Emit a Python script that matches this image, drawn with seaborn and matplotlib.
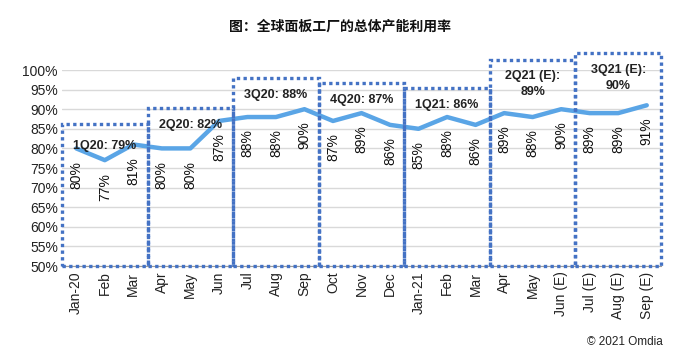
import pandas as pd
import seaborn as sns
import matplotlib.pyplot as plt
from matplotlib.patches import Rectangle

months = ['Jan-20', 'Feb', 'Mar', 'Apr', 'May', 'Jun', 'Jul', 'Aug', 'Sep', 'Oct', 'Nov', 'Dec',
          'Jan-21', 'Feb', 'Mar', 'Apr', 'May', 'Jun (E)', 'Jul (E)', 'Aug (E)', 'Sep (E)']
utilization = [80, 77, 81, 80, 80, 87, 88, 88, 90, 87, 89, 86, 85, 88, 86, 89, 88, 90, 89, 89, 91]

quarter_labels = ['1Q20: 79%', '2Q20: 82%', '3Q20: 88%', '4Q20: 87%', '1Q21: 86%',
                  '2Q21 (E):\n89%', '3Q21 (E):\n90%']
quarter_box_top = [86.2, 90.3, 98.0, 96.6, 95.3, 102.5, 104.3]
quarter_label_y = [80.7, 86.0, 93.6, 92.3, 91.0, 96.4, 98.0]

sns.set_style('white')
plt.rcParams['font.family'] = ['Liberation Sans', 'Noto Sans CJK SC', 'DejaVu Sans']

df = pd.DataFrame({'idx': range(len(months)), 'val': utilization})

fig = plt.figure(figsize=(6.79, 3.52), dpi=100)
ax = fig.add_axes([62 / 679, 1 - 266 / 352, 599 / 679, 196 / 352])

sns.lineplot(data=df, x='idx', y='val', ax=ax, color='#5AA5E6', linewidth=3.2, zorder=3)

ax.set_xlim(-0.5, len(months) - 0.5)
ax.set_ylim(50, 100)
ax.set_yticks(range(50, 101, 5))
ax.set_yticklabels([f'{v}%' for v in range(50, 101, 5)], fontsize=10, color='#222222')
ax.set_xticks(range(len(months)))
ax.set_xticklabels(months, rotation=90, fontsize=10, color='#222222', va='top')
ax.set_xticks([i + 0.5 for i in range(-1, len(months))], minor=True)
ax.tick_params(axis='x', which='major', length=0, pad=4)
ax.tick_params(axis='x', which='minor', length=5, color='#9a9a9a', direction='out')
ax.tick_params(axis='y', length=0, pad=3)
ax.grid(axis='y', color='#d9d9d9', linewidth=1)
ax.set_xlabel('')
ax.set_ylabel('')
for s in ['top', 'right', 'left']:
    ax.spines[s].set_visible(False)
ax.spines['bottom'].set_color('#9a9a9a')

# data labels under each point
for i, v in enumerate(utilization):
    ax.annotate(f'{v}%', (i, v), xytext=(0, -9), textcoords='offset points',
                rotation=90, ha='center', va='top', fontsize=10, color='#111111')

# quarter boxes
for q in range(len(quarter_labels)):
    x0 = q * 3 - 0.5
    ax.add_patch(Rectangle((x0, 50), 3, quarter_box_top[q] - 50, fill=False,
                           edgecolor='#4472C4', linewidth=2.4, linestyle=(0, (1, 1)),
                           clip_on=False, zorder=4))
    ax.text(q * 3 + 1, quarter_label_y[q], quarter_labels[q], ha='center', va='center',
            fontsize=9, fontweight='bold', color='#222222', linespacing=1.4, zorder=5)

fig.text(0.5, 1 - 27 / 352, '图：全球面板工厂的总体产能利用率', ha='center', va='center',
         fontsize=10, fontweight='bold', color='#111111')
fig.text(663 / 679, 1 - 342 / 352, '© 2021 Omdia', ha='right', va='center',
         fontsize=8.5, color='#222222')

plt.savefig('out.png', dpi=100)
